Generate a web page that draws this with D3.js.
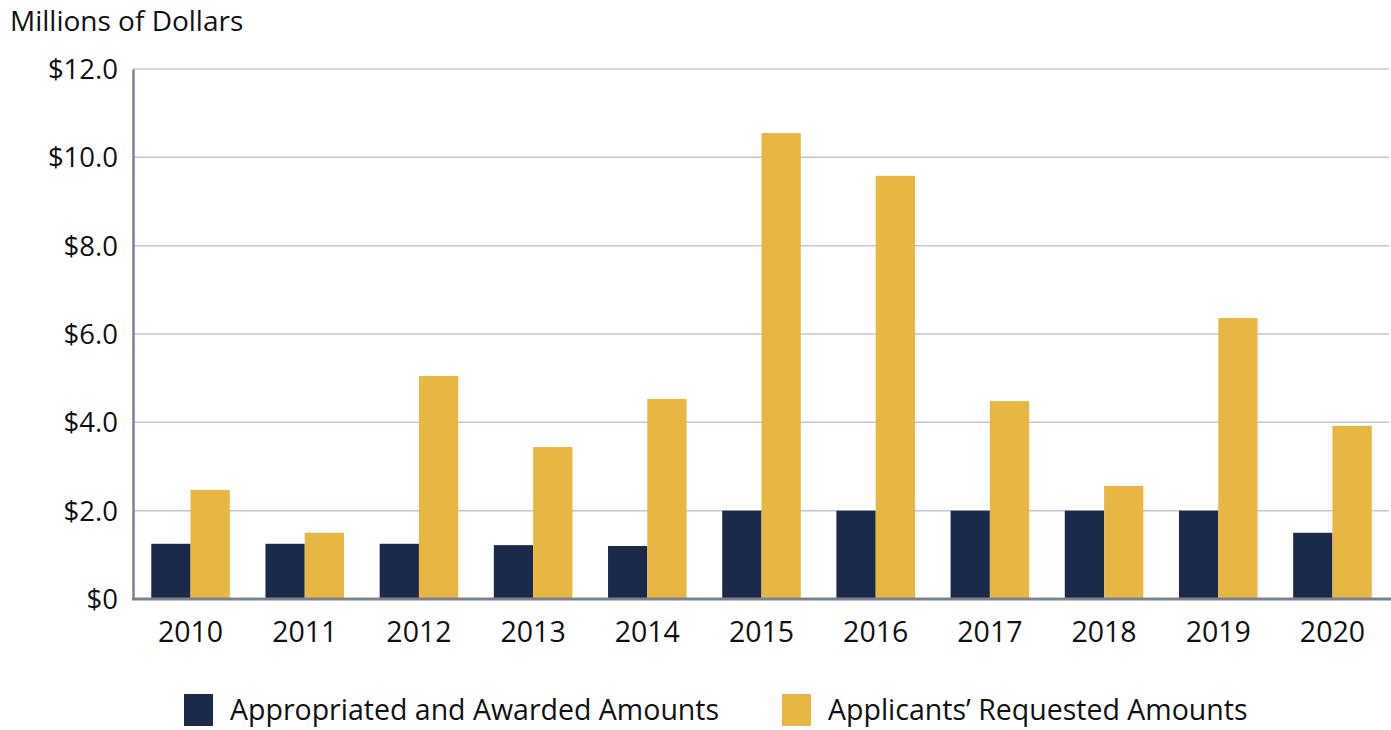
<!DOCTYPE html>
<html>
<head>
<meta charset="utf-8">
<script src="https://cdn.jsdelivr.net/npm/d3@7"></script>
<style>
  body { margin: 0; background: #fff; }
  svg text { font-family: "Open Sans", "Noto Sans", sans-serif; fill: #111; }
</style>
</head>
<body>
<svg id="chart"></svg>
<script>
const width = 1391;
const height = 730;

// chart data
const years = ['2010', '2011', '2012', '2013', '2014', '2015', '2016', '2017', '2018', '2019', '2020'];
const awarded = [1.25, 1.25, 1.25, 1.22, 1.2, 2.0, 2.0, 2.0, 2.0, 2.0, 1.5];
const requested = [2.47, 1.5, 5.05, 3.44, 4.53, 10.55, 9.58, 4.48, 2.56, 6.36, 3.92];
const seriesNames = ['Appropriated and Awarded Amounts', 'Applicants\u2019 Requested Amounts'];
const yTicks = [0, 2, 4, 6, 8, 10, 12];
const colors = ['#1b2a4a', '#e8b642'];

const margin = { top: 69, right: 1, bottom: 131, left: 133 };

const svg = d3.select('#chart')
  .attr('width', width)
  .attr('height', height);

const x = d3.scaleBand()
  .domain(years)
  .range([margin.left, width - margin.right])
  .paddingInner(0.312)
  .paddingOuter(0.16);

const x1 = d3.scaleBand()
  .domain([0, 1])
  .range([0, x.bandwidth()]);

const y = d3.scaleLinear()
  .domain([0, 12])
  .range([height - margin.bottom, margin.top]);

// gridlines
svg.append('g')
  .selectAll('line')
  .data(yTicks.filter(d => d > 0))
  .enter()
  .append('line')
    .attr('x1', margin.left)
    .attr('x2', width - 2)
    .attr('y1', d => y(d))
    .attr('y2', d => y(d))
    .attr('stroke', '#c3c6d4')
    .attr('stroke-width', 1.5);

// bars
const groups = svg.append('g')
  .selectAll('g')
  .data(years.map((yr, i) => ({ yr, vals: [awarded[i], requested[i]] })))
  .enter()
  .append('g')
    .attr('transform', d => `translate(${x(d.yr)},0)`);

groups.selectAll('rect')
  .data(d => d.vals.map((v, k) => ({ v, k })))
  .enter()
  .append('rect')
    .attr('x', d => x1(d.k))
    .attr('y', d => y(d.v))
    .attr('width', x1.bandwidth())
    .attr('height', d => y(0) - y(d.v))
    .attr('fill', d => colors[d.k]);

// y axis
const yAxis = svg.append('g')
  .attr('transform', `translate(${margin.left},0)`)
  .call(d3.axisLeft(y)
    .tickValues(yTicks)
    .tickSize(0)
    .tickPadding(15)
    .tickFormat(d => d === 0 ? '$0' : '$' + d3.format('.1f')(d)));

yAxis.select('.domain')
  .attr('stroke', '#7c8190')
  .attr('stroke-width', 2.5);
yAxis.selectAll('text')
  .attr('font-size', 27.5)
  .attr('dy', '0.35em')
  .style('fill', '#111');

// x axis
const xAxis = svg.append('g')
  .attr('transform', `translate(0,${y(0)})`)
  .call(d3.axisBottom(x).tickSize(0).tickPadding(23));

xAxis.select('.domain')
  .attr('d', `M${margin.left - 1},0H${width}`)
  .attr('stroke', '#7c8190')
  .attr('stroke-width', 3);
xAxis.selectAll('text')
  .attr('font-size', 28.5)
  .style('fill', '#111');

// axis title
svg.append('text')
  .attr('x', 10)
  .attr('y', 31)
  .attr('font-size', 28)
  .text('Millions of Dollars');

// legend
const legendX = [184, 782];
const legend = svg.append('g')
  .selectAll('g')
  .data(seriesNames)
  .enter()
  .append('g')
    .attr('transform', (d, i) => `translate(${legendX[i]},694)`);

legend.append('rect')
  .attr('width', 29)
  .attr('height', 32)
  .attr('fill', (d, i) => colors[i]);

legend.append('text')
  .attr('x', 46)
  .attr('y', 26)
  .attr('font-size', 28.5)
  .text(d => d);
</script>
</body>
</html>
